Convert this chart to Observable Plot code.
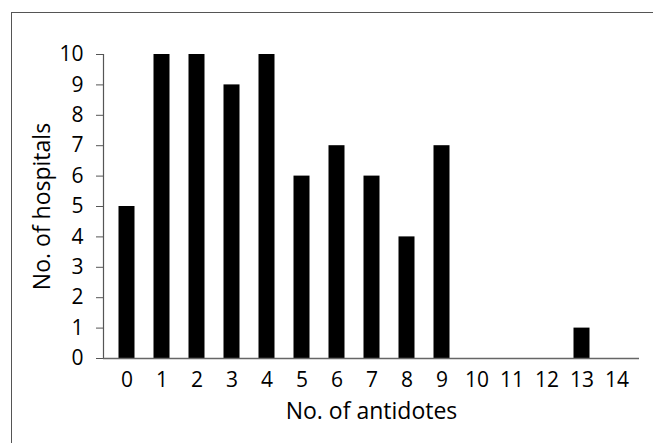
<!DOCTYPE html>
<html>
<head>
<meta charset="utf-8">
<script src="https://cdn.jsdelivr.net/npm/d3@7"></script>
<script src="https://cdn.jsdelivr.net/npm/@observablehq/plot@0.6"></script>
<style>
  html, body { margin: 0; padding: 0; background: #fff; }
  #wrap { position: relative; width: 653px; height: 443px; overflow: hidden; }
  #box { position: absolute; left: 11px; top: 12px; width: 700px; height: 500px;
         border-left: 1.5px solid #555; border-top: 1.5px solid #555; box-sizing: border-box; }
  #chart { position: absolute; left: 0; top: 0; }
  #chart svg text { font-family: 'Open Sans', sans-serif; }
  #chart svg g[aria-label="x-axis tick label"], #chart svg g[aria-label="y-axis tick label"] { font-size: 21px; }
</style>
</head>
<body>
<div id="wrap"><div id="box"></div><div id="chart"></div></div>
<script>
const antidotes = [0,1,2,3,4,5,6,7,8,9,10,11,12,13,14];
const hospitals = [5,10,10,9,10,6,7,6,4,7,0,0,0,1,0];
const yTicks = [0,1,2,3,4,5,6,7,8,9,10];
const xTitle = "No. of antidotes";
const yTitle = "No. of hospitals";

const data = antidotes.map((a, i) => ({a, n: hospitals[i]}));

const chart = Plot.plot({
  width: 653,
  height: 443,
  marginLeft: 103,
  marginRight: 14,
  marginTop: 54,
  marginBottom: 85,
  style: {fontFamily: "'Open Sans', sans-serif", fontSize: "21px", color: "#000", background: "transparent"},
  x: {type: "band", domain: antidotes, padding: 0},
  y: {domain: [0, 10]},
  marks: [
    Plot.barY(data, {x: "a", y: "n", fill: "#000", insetLeft: 9.5, insetRight: 9.5}),
    Plot.frame({anchor: "left", stroke: "#555", strokeWidth: 1.2}),
    Plot.ruleY([0], {stroke: "#666", strokeWidth: 1.5}),
    Plot.axisY({ticks: yTicks, tickSize: 7, tickPadding: 13, stroke: "#555", fontSize: 21, label: null, fill: "#000"}),
    Plot.axisX({tickSize: 0, tickPadding: 14, fontSize: 21, label: null, fill: "#000"}),
    Plot.text([xTitle], {text: d => d, frameAnchor: "bottom", lineAnchor: "middle", textAnchor: "middle", dy: 53, fontSize: 23, fill: "#000"}),
    Plot.text([yTitle], {text: d => d, frameAnchor: "left", lineAnchor: "middle", textAnchor: "middle", rotate: -90, dx: -61, fontSize: 23, fill: "#000"})
  ]
});
document.getElementById("chart").appendChild(chart);
</script>
</body>
</html>
